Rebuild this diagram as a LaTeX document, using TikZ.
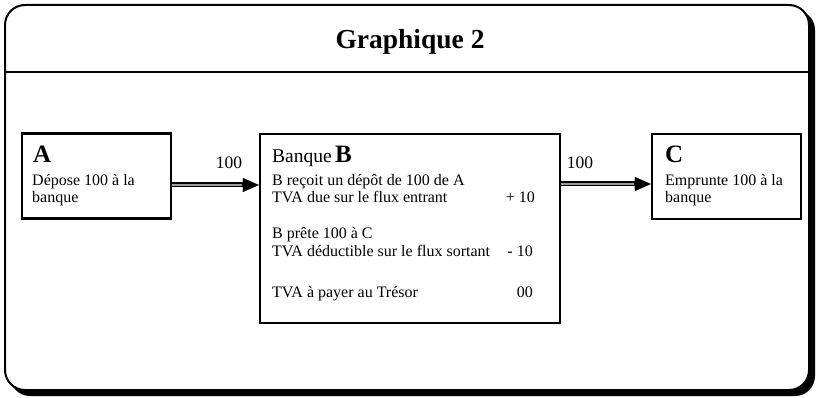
\documentclass[tikz,border=0pt]{standalone}
\usepackage{fontspec}
\setmainfont{Liberation Serif}
\usetikzlibrary{arrows.meta}
\begin{document}
\begin{tikzpicture}[x=1pt,y=-1pt,
  box/.style={draw,line width=2.2pt,inner sep=0pt,fill=white},
  txt/.style={anchor=base west,inner sep=0pt,font=\fontsize{16}{17}\selectfont},
  num/.style={anchor=base east,inner sep=0pt,font=\fontsize{16}{17}\selectfont},
  letter/.style={anchor=base west,inner sep=0pt,font=\fontsize{25}{25}\selectfont\bfseries},
  flowlbl/.style={anchor=base,inner sep=0pt,font=\fontsize{17.5}{17.5}\selectfont},
  shaft/.style={line width=5pt,-{Triangle[length=16pt,width=14pt,line width=0.1pt]}},
  stripe/.style={line width=1.2pt,black!40,shorten >=17pt}]
\useasboundingbox (0,0) rectangle (819,398);
% frame with shadow
\fill[black,rounded corners=20pt] (10,10) rectangle (815,396);
\draw[line width=2pt,fill=white,rounded corners=20pt] (5,5) rectangle (809,390);
\draw[line width=1.6pt] (5,72) -- (809,72);
\node[inner sep=0pt,anchor=base,font=\fontsize{27.5}{27.5}\selectfont\bfseries] (title) at (410,49) {Graphique 2};
% boxes
\node[box,minimum width=149pt,minimum height=85pt] (A) at (96.5,176) {};
\node[box,minimum width=300pt,minimum height=189pt] (B) at (410,228.5) {};
\node[box,minimum width=149pt,minimum height=85pt] (C) at (726.5,176.5) {};
% box A text
\node[letter] (Al) at (33,163) {A};
\node[txt] (A1) at (32,186) {Dépose 100 à la};
\node[txt] (A2) at (32,203) {banque};
% box B text
\node[anchor=base west,inner sep=0pt,font=\fontsize{19.5}{20}\selectfont] (Bl) at (272,163) {Banque\,{\fontsize{25}{25}\selectfont\bfseries B}};
\node[txt] (B1) at (272,186) {B reçoit un dépôt de 100 de A};
\node[txt] (B2) at (272,203) {TVA due sur le flux entrant};
\node[num] (B2n) at (535,203) {+ 10};
\node[txt] (B3) at (272,239) {B prête 100 à C};
\node[txt] (B4) at (272,256) {TVA déductible sur le flux sortant};
\node[num] (B4n) at (533,256) {- 10};
\node[txt] (B5) at (272,297) {TVA à payer au Trésor};
\node[num] (B5n) at (533,297) {00};
% box C text
\node[letter] (Cl) at (665,163) {C};
\node[txt] (C1) at (665,186) {Emprunte 100 à la};
\node[txt] (C2) at (665,203) {banque};
% arrows
\draw[shaft] (A.east |- 0,185) -- (B.west |- 0,185);
\draw[stripe] (A.east |- 0,185) -- (B.west |- 0,185);
\draw[shaft] (B.east |- 0,184) -- (C.west |- 0,184);
\draw[stripe] (B.east |- 0,184) -- (C.west |- 0,184);
\node[flowlbl] (l1) at (229,169) {100};
\node[flowlbl] (l2) at (580,169) {100};
\end{tikzpicture}
\end{document}
